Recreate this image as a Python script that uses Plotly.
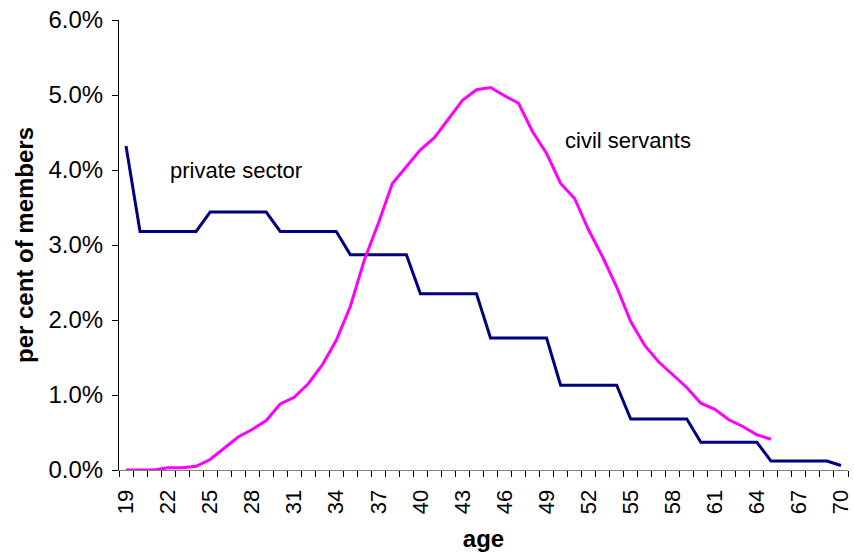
import plotly.graph_objects as go

ages = list(range(19, 71))

private_sector = [4.32, 3.18, 3.18, 3.18, 3.18, 3.18, 3.44, 3.44, 3.44, 3.44, 3.44,
                  3.18, 3.18, 3.18, 3.18, 3.18, 2.87, 2.87, 2.87, 2.87, 2.87,
                  2.35, 2.35, 2.35, 2.35, 2.35, 1.76, 1.76, 1.76, 1.76, 1.76,
                  1.13, 1.13, 1.13, 1.13, 1.13, 0.68, 0.68, 0.68, 0.68, 0.68,
                  0.37, 0.37, 0.37, 0.37, 0.37, 0.12, 0.12, 0.12, 0.12, 0.12, 0.06]

civil_ages = list(range(19, 66))
civil_servants = [0.0, 0.0, 0.0, 0.03, 0.03, 0.05, 0.14, 0.29, 0.44, 0.54, 0.66,
                  0.88, 0.97, 1.15, 1.40, 1.73, 2.18, 2.80, 3.29, 3.82, 4.05,
                  4.27, 4.43, 4.68, 4.93, 5.07, 5.10, 4.99, 4.89, 4.51, 4.22,
                  3.82, 3.62, 3.20, 2.84, 2.44, 1.98, 1.66, 1.44, 1.27, 1.10,
                  0.89, 0.81, 0.67, 0.58, 0.47, 0.41]

tick_ages = list(range(19, 71, 3))

fig = go.Figure()
fig.add_trace(go.Scatter(x=ages, y=[v / 100 for v in private_sector], mode="lines",
                         line=dict(color="#000080", width=3), name="private sector"))
fig.add_trace(go.Scatter(x=civil_ages, y=[v / 100 for v in civil_servants], mode="lines",
                         line=dict(color="#FF00FF", width=3), name="civil servants"))

fig.add_annotation(x=26.88, y=0.040, xref="x", yref="y", text="private sector",
                   showarrow=False, font=dict(size=22, color="black"))
fig.add_annotation(x=54.8, y=0.044, xref="x", yref="y", text="civil servants",
                   showarrow=False, font=dict(size=22, color="black"))

fig.update_layout(
    width=854, height=557,
    margin=dict(l=119, r=6, t=20, b=87),
    paper_bgcolor="white", plot_bgcolor="white",
    showlegend=False,
    font=dict(family="Liberation Sans, Arial, sans-serif", size=22, color="black"),
    xaxis=dict(
        range=[18.5, 70.5], tickmode="array", tickvals=tick_ages,
        ticktext=[str(a) for a in tick_ages], tickangle=-90,
        ticks="", showgrid=False, zeroline=False,
        showline=True, linecolor="#808080", linewidth=1,
        ticklabelstandoff=10,
        minor=dict(ticks="outside", tick0=18.5, dtick=1, ticklen=6,
                   tickcolor="black", showgrid=False),
        title=dict(text="<b>age</b>", font=dict(size=24), standoff=16),
        tickfont=dict(size=22),
        automargin=False,
    ),
    yaxis=dict(
        range=[0, 0.06], tickmode="linear", tick0=0, dtick=0.01, tickformat=".1%",
        ticks="outside", ticklen=6, tickcolor="black", showgrid=False, zeroline=False,
        showline=True, linecolor="black", linewidth=1,
        ticklabelstandoff=4,
        title=dict(text="<b>per cent of members</b>", font=dict(size=24), standoff=8),
        tickfont=dict(size=24),
        automargin=False,
    ),
)

fig.write_html("out.html", post_script="document.body.style.margin='0';",
               config={"displayModeBar": False})
